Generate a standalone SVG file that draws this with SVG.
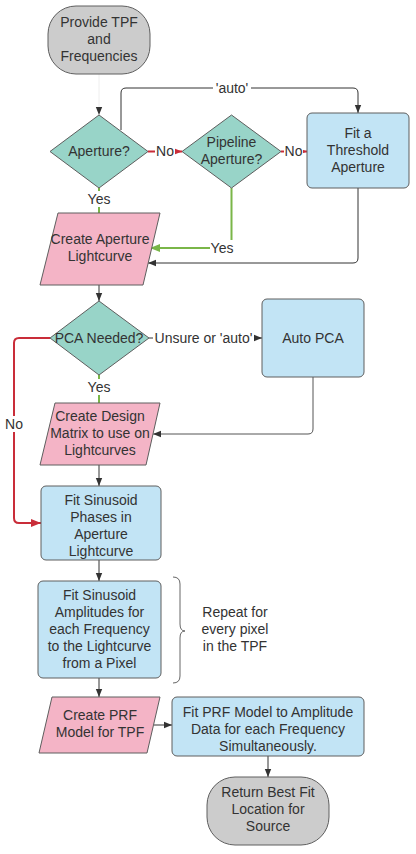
<svg xmlns="http://www.w3.org/2000/svg" width="416" height="854" viewBox="0 0 416 854">
<style>
text{font-family:"Liberation Sans",Arial,sans-serif;font-size:14px;fill:#333;text-anchor:middle}
.term{fill:#cccccc;stroke:#5e5e5e;stroke-width:1}
.dec{fill:#98d4c8;stroke:#5e5e5e;stroke-width:1;stroke-linejoin:round}
.io{fill:#f4b4c6;stroke:#5e5e5e;stroke-width:1;stroke-linejoin:round}
.proc{fill:#c2e4f5;stroke:#5e5e5e;stroke-width:1}
.c{fill:none;stroke:#333;stroke-width:1}
.g{fill:none;stroke:#7ab648;stroke-width:2}
.r{fill:none;stroke:#c92d39;stroke-width:2}
.lb{fill:#fff}
</style>
<defs>
<marker id="ak" viewBox="0 0 10 10" refX="10" refY="5" markerWidth="8" markerHeight="8" markerUnits="userSpaceOnUse" orient="auto"><path d="M0,1 L10,5 L0,9 Z" fill="#333"/></marker>
<marker id="ag" viewBox="0 0 10 10" refX="10" refY="5" markerWidth="10" markerHeight="10" markerUnits="userSpaceOnUse" orient="auto"><path d="M0,1 L10,5 L0,9 Z" fill="#7ab648"/></marker>
<marker id="ar" viewBox="0 0 10 10" refX="10" refY="5" markerWidth="10" markerHeight="10" markerUnits="userSpaceOnUse" orient="auto"><path d="M0,1 L10,5 L0,9 Z" fill="#c92d39"/></marker>
</defs>
<g id="connectors">
<path class="c" d="M99,74 V115" stroke="#eee" style="stroke:#eeeeee" marker-end="url(#ak)"/>
<path class="c" d="M121,130 V93 Q121,88 126,88 H353 Q358,88 358,93 V113" marker-end="url(#ak)"/>
<rect class="lb" x="213" y="80" width="38" height="16"/>
<text x="232" y="93">'auto'</text>
<path class="r" d="M148,151.5 H182" marker-end="url(#ar)"/>
<rect class="lb" x="155" y="143" width="20" height="16"/>
<text x="165" y="156">No</text>
<path class="r" d="M281,151.5 H307" marker-end="url(#ar)"/>
<rect class="lb" x="284" y="143" width="19" height="16"/>
<text x="293.5" y="156">No</text>
<path class="g" d="M99,188 V213"/>
<rect class="lb" x="87" y="191" width="24" height="16"/>
<text x="99" y="204">Yes</text>
<path class="g" d="M231.5,188 V243 Q231.5,248 226.5,248 H150" marker-end="url(#ag)"/>
<rect class="lb" x="210" y="240" width="24" height="16"/>
<text x="222" y="253">Yes</text>
<path class="c" d="M358,188 V258 Q358,263 353,263 H148" marker-end="url(#ak)"/>
<path class="c" d="M99,285 V301" marker-end="url(#ak)"/>
<path class="c" d="M149,338 H262" marker-end="url(#ak)"/>
<rect class="lb" x="153" y="330" width="101" height="16"/>
<text x="203.5" y="343">Unsure or 'auto'</text>
<path class="c" d="M313,377 V429 Q313,434 308,434 H153" style="stroke:#555" marker-end="url(#ak)"/>
<path class="g" d="M99,375 V403"/>
<rect class="lb" x="87" y="379" width="24" height="16"/>
<text x="99" y="392">Yes</text>
<path class="r" d="M50,338 H19 Q14,338 14,343 V518 Q14,523 19,523 H41" marker-end="url(#ar)"/>
<rect class="lb" x="4" y="416" width="20" height="16"/>
<text x="14" y="429">No</text>
<path class="c" d="M99,465 V486" marker-end="url(#ak)"/>
<path class="c" d="M99,560 V581" marker-end="url(#ak)"/>
<path class="c" d="M99,678 V697" marker-end="url(#ak)"/>
<path class="c" d="M154,725 H172" marker-end="url(#ak)"/>
<path class="c" d="M268,756 V777" marker-end="url(#ak)"/>
</g>
<g id="start">
<rect class="term" x="48" y="6" width="102" height="68" rx="28"/>
<text x="99" y="27">Provide TPF</text>
<text x="99" y="44">and</text>
<text x="99" y="61">Frequencies</text>
</g>
<g id="aperture">
<path class="dec" d="M99,115 L148,151.5 L99,188 L50,151.5 Z"/>
<text x="99" y="156">Aperture?</text>
</g>
<g id="pipeline">
<path class="dec" d="M231.5,115 L281,151.5 L231.5,188 L182,151.5 Z"/>
<text x="231.5" y="147">Pipeline</text>
<text x="231.5" y="164">Aperture?</text>
</g>
<g id="threshold">
<rect class="proc" x="307" y="113" width="102" height="75" rx="5"/>
<text x="358" y="138">Fit a</text>
<text x="358" y="155">Threshold</text>
<text x="358" y="172">Aperture</text>
</g>
<g id="create-aperture">
<path class="io" d="M58,213 L160,213 L143,285 L40,285 Z"/>
<text x="100" y="244">Create Aperture</text>
<text x="100" y="261">Lightcurve</text>
</g>
<g id="pca">
<path class="dec" d="M99,301 L149,338 L99,375 L50,338 Z"/>
<text x="99" y="343">PCA Needed?</text>
</g>
<g id="auto-pca">
<rect class="proc" x="262" y="299" width="102" height="78" rx="5"/>
<text x="313" y="343">Auto PCA</text>
</g>
<g id="design-matrix">
<path class="io" d="M55,403 L160,403 L146,465 L40,465 Z"/>
<text x="100" y="421">Create Design</text>
<text x="100" y="438">Matrix to use on</text>
<text x="100" y="455">Lightcurves</text>
</g>
<g id="phases">
<rect class="proc" x="41" y="486" width="120" height="74" rx="5"/>
<text x="101" y="505">Fit Sinusoid</text>
<text x="101" y="522">Phases in</text>
<text x="101" y="539">Aperture</text>
<text x="101" y="556">Lightcurve</text>
</g>
<g id="amplitudes">
<rect class="proc" x="38" y="581" width="123" height="97" rx="5"/>
<text x="99.5" y="600">Fit Sinusoid</text>
<text x="99.5" y="617">Amplitudes for</text>
<text x="99.5" y="634">each Frequency</text>
<text x="99.5" y="651">to the Lightcurve</text>
<text x="99.5" y="668">from a Pixel</text>
</g>
<g id="repeat">
<path d="M173,577 Q180,577 180,584 V624 Q180,631 185,631 Q180,631 180,638 V676 Q180,683 173,683" fill="none" stroke="#666" stroke-width="1"/>
<text x="235" y="617">Repeat for</text>
<text x="235" y="634">every pixel</text>
<text x="235" y="651">in the TPF</text>
</g>
<g id="prf-model">
<path class="io" d="M52,697 L160,697 L147,753 L39,753 Z"/>
<text x="100" y="720">Create PRF</text>
<text x="100" y="737">Model for TPF</text>
</g>
<g id="fit-prf">
<rect class="proc" x="172" y="697" width="192" height="59" rx="5"/>
<text x="268" y="717">Fit PRF Model to Amplitude</text>
<text x="268" y="734">Data for each Frequency</text>
<text x="268" y="751">Simultaneously.</text>
</g>
<g id="end">
<rect class="term" x="207" y="777" width="122" height="68" rx="28"/>
<text x="268" y="797">Return Best Fit</text>
<text x="268" y="814">Location for</text>
<text x="268" y="831">Source</text>
</g>
</svg>
